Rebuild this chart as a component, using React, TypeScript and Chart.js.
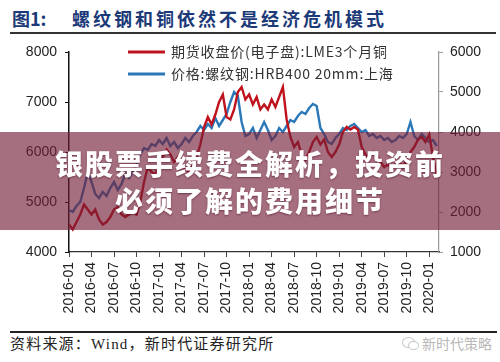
import React, { useEffect, useRef } from 'react';
import { Chart, registerables } from 'chart.js';

Chart.register(...registerables);

const TITLE_NUM = '图1:';
const TITLE = '螺纹钢和铜依然不是经济危机模式';
const SERIES_NAMES = ['期货收盘价(电子盘):LME3个月铜', '价格:螺纹钢:HRB400 20mm:上海'];
const SERIES_COLORS = ['#c0121c', '#2a78b8'];
const TICK_LABELS = [
  '2016-01', '2016-04', '2016-07', '2016-10',
  '2017-01', '2017-04', '2017-07', '2017-10',
  '2018-01', '2018-04', '2018-07', '2018-10',
  '2019-01', '2019-04', '2019-07', '2019-10',
  '2020-01',
];
const LEFT_RANGE = [4000, 8000];
const RIGHT_RANGE = [1000, 6000];
const SOURCE = '资料来源：Wind，新时代证券研究所';
const WATERMARK = '新时代策略';
const BANNER = ['银股票手续费全解析，投资前', '必须了解的费用细节'];

// half-monthly readings from 2016-01 onward
const COPPER = [
  4550, 4450, 4600, 4750, 4950, 4850, 4750, 4850, 4650, 4550, 4600, 4700,
  4850, 4900, 4750, 4700, 4750, 4800, 4750, 5000, 5400, 5700, 5600, 5550,
  5750, 5900, 6050, 5950, 5800, 5900, 5700, 5650, 5600, 5750, 5900, 6150,
  6500, 6700, 6550, 6750, 7000, 7150, 6700, 6650, 6850, 7200, 7300, 7050,
  7150, 6950, 7100, 6850, 6950, 6850, 7050, 6900, 7100, 7300, 6650, 6300,
  6100, 6200, 5950, 5850, 6000, 6200, 6300, 6150, 6250, 6000, 5900, 6000,
  6150, 6400, 6500, 6450, 6500, 6450, 6100, 5950, 5850, 6000, 5950, 5800,
  5700, 5750, 5650, 5750, 5800, 5700, 5850, 6000, 6100, 6250, 6300, 6200,
  6350, 5900, 5550,
];
const REBAR = [
  2050, 2000, 2150, 2250, 2600, 3000, 2750, 2450, 2350, 2500, 2400, 2600,
  2750, 2550, 2700, 2950, 2850, 3000, 3200, 3450, 3600, 3550, 3700, 3650,
  3800, 3700, 3850, 3650, 3750, 3600, 3700, 3850, 3750, 3900, 4000, 4150,
  4050, 4200, 4100, 4350, 4150, 4300, 4450, 4750, 5000, 4900, 4250, 3900,
  3950, 4100, 3850, 4050, 4250, 4050, 3800, 3900, 4100, 4000, 4150, 4300,
  4250, 4400, 4500, 4450, 4600, 4700, 4650, 4100, 3950, 3750, 3700, 3850,
  3950, 4100, 4050, 4150, 4200, 4100, 4000, 4050, 3900, 3950, 3850, 3900,
  3800, 3850, 3750, 3800, 3900, 3850, 3950, 4250, 3900, 3800, 3950, 3850,
  3750, 3800, 3650,
];

const CJK = "'Noto Sans CJK SC', sans-serif";
const SERIF = "'Liberation Serif', 'Noto Sans CJK SC', serif";
const SANS = "'Liberation Sans', Arial, sans-serif";

const legendPlugin = {
  id: 'inlineLegend',
  afterDatasetsDraw(chart: any) {
    const ctx = chart.ctx;
    const left = chart.chartArea.left;
    const top = chart.chartArea.top;
    chart.data.datasets.forEach((ds: any, i: number) => {
      const y = top + i * 22;
      ctx.save();
      ctx.strokeStyle = ds.borderColor;
      ctx.lineWidth = 3;
      ctx.beginPath();
      ctx.moveTo(left + 59, y);
      ctx.lineTo(left + 96, y);
      ctx.stroke();
      ctx.fillStyle = '#333';
      ctx.font = `14px ${CJK}`;
      try { (ctx as any).letterSpacing = '0.8px'; } catch (e) {}
      ctx.textBaseline = 'middle';
      ctx.textAlign = 'left';
      ctx.fillText(ds.label, left + 102, y);
      ctx.restore();
    });
  },
};

function ChartBox() {
  const ref = useRef<HTMLCanvasElement | null>(null);
  useEffect(() => {
    if (!ref.current) return;
    const tickFont = { family: SANS, size: 14 };
    const plain = (v: any) => String(v);
    const chart = new Chart(ref.current, {
      type: 'line',
      data: {
        datasets: [
          {
            label: SERIES_NAMES[0],
            data: COPPER.map((v, i) => ({ x: i / 2, y: v })),
            borderColor: SERIES_COLORS[0],
            backgroundColor: SERIES_COLORS[0],
            borderWidth: 2.4,
            pointRadius: 0,
            tension: 0,
            yAxisID: 'y',
          },
          {
            label: SERIES_NAMES[1],
            data: REBAR.map((v, i) => ({ x: i / 2, y: v })),
            borderColor: SERIES_COLORS[1],
            backgroundColor: SERIES_COLORS[1],
            borderWidth: 2.4,
            pointRadius: 0,
            tension: 0,
            yAxisID: 'y1',
          },
        ],
      },
      options: {
        animation: false,
        responsive: false,
        maintainAspectRatio: false,
        layout: { padding: { top: 18, left: 0, right: 0, bottom: 0 } },
        plugins: { legend: { display: false }, tooltip: { enabled: false } },
        scales: {
          x: {
            type: 'linear',
            min: 0,
            max: 49.3,
            afterBuildTicks: (s: any) => {
              s.ticks = TICK_LABELS.map((_, i) => ({ value: i * 3 }));
            },
            afterFit: (s: any) => { s.height = 78; },
            ticks: {
              autoSkip: false,
              maxRotation: 90,
              minRotation: 90,
              padding: 5,
              color: '#222',
              font: tickFont,
              callback: (v: any) => TICK_LABELS[Math.round(Number(v) / 3)] ?? '',
            },
            grid: { display: true, drawOnChartArea: false, drawTicks: true, tickLength: 5, color: '#444' },
            border: { display: true, color: '#333', width: 1.2 },
          },
          y: {
            position: 'left',
            min: LEFT_RANGE[0],
            max: LEFT_RANGE[1],
            afterFit: (s: any) => { s.width = 69; },
            ticks: { stepSize: 1000, padding: 8, color: '#222', font: tickFont, callback: plain },
            grid: { display: true, drawOnChartArea: false, drawTicks: true, tickLength: 4, color: '#111' },
            border: { display: true, color: '#111', width: 1.5 },
          },
          y1: {
            position: 'right',
            min: RIGHT_RANGE[0],
            max: RIGHT_RANGE[1],
            afterFit: (s: any) => { s.width = 61; },
            ticks: { stepSize: 1000, padding: 7, color: '#222', font: tickFont, callback: plain },
            grid: { display: true, drawOnChartArea: false, drawTicks: true, tickLength: 4, color: '#999' },
            border: { display: true, color: '#999', width: 1.2 },
          },
        },
      },
      plugins: [legendPlugin],
    } as any);
    return () => chart.destroy();
  }, []);
  return <canvas ref={ref} width={500} height={296} style={{ display: 'block', width: 500, height: 296 }} />;
}

export default function App() {
  return (
    <div style={{ position: 'absolute', left: 0, top: 0, width: 500, height: 362, background: '#fff', overflow: 'hidden' }}>
      <div style={{ position: 'absolute', left: 12, top: 6, height: 24, lineHeight: '24px', fontFamily: CJK, fontWeight: 700, fontSize: 18, color: '#1c3a78', whiteSpace: 'nowrap' }}>
        {TITLE_NUM}
      </div>
      <div style={{ position: 'absolute', left: 72, top: 6, height: 24, lineHeight: '24px', fontFamily: CJK, fontWeight: 700, fontSize: 18, letterSpacing: 3, color: '#1c3a78', whiteSpace: 'nowrap' }}>
        {TITLE}
      </div>
      <div style={{ position: 'absolute', left: 10, top: 32, width: 486, height: 2, background: '#333' }} />
      <div style={{ position: 'absolute', left: 0, top: 34, width: 500, height: 296 }}>
        <ChartBox />
      </div>
      <div style={{ position: 'absolute', left: 0, top: 132, width: 500, height: 98, background: 'rgba(115, 30, 55, 0.64)' }}>
        <div style={{ position: 'absolute', left: 0, width: 500, top: 13, height: 36, lineHeight: '36px', textAlign: 'center', color: '#fff', fontFamily: CJK, fontWeight: 900, fontSize: 28, letterSpacing: 2, whiteSpace: 'nowrap', textShadow: '0 1px 2px rgba(60,0,20,0.5)' }}>
          {BANNER[0]}
        </div>
        <div style={{ position: 'absolute', left: 0, width: 500, top: 50, height: 36, lineHeight: '36px', textAlign: 'center', color: '#fff', fontFamily: CJK, fontWeight: 900, fontSize: 28, letterSpacing: 2, whiteSpace: 'nowrap', textShadow: '0 1px 2px rgba(60,0,20,0.5)' }}>
          {BANNER[1]}
        </div>
      </div>
      <div style={{ position: 'absolute', left: 10, top: 331, width: 487, height: 1.5, background: '#222' }} />
      <div style={{ position: 'absolute', left: 10, top: 334, height: 20, lineHeight: '20px', fontFamily: SERIF, fontSize: 15, letterSpacing: 1.2, color: '#222', whiteSpace: 'nowrap' }}>
        {SOURCE}
      </div>
      <div style={{ position: 'absolute', left: 402, top: 337, width: 11, height: 9, border: '1.5px solid #c8c8c8', borderRadius: '50%' }} />
      <div style={{ position: 'absolute', left: 408, top: 341, width: 9, height: 7, border: '1.5px solid #c8c8c8', borderRadius: '50%', background: '#fff' }} />
      <div style={{ position: 'absolute', left: 422, top: 333, height: 20, lineHeight: '20px', fontFamily: CJK, fontSize: 14, color: '#b8b8b8', whiteSpace: 'nowrap' }}>
        {WATERMARK}
      </div>
    </div>
  );
}
